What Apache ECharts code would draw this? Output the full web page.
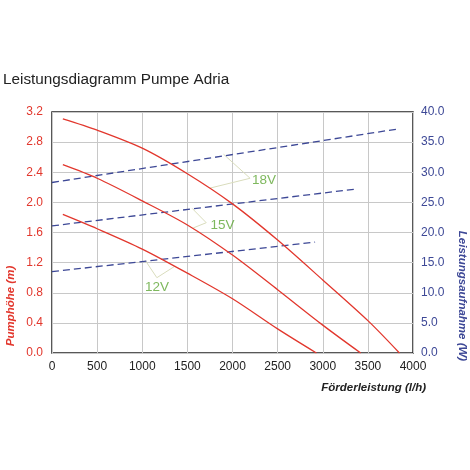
<!DOCTYPE html>
<html>
<head>
<meta charset="utf-8">
<script src="https://cdn.jsdelivr.net/npm/echarts@6/dist/echarts.min.js"></script>
<style>
  html, body { margin: 0; padding: 0; background: #fff; }
  #chart { width: 470px; height: 470px; }
</style>
</head>
<body>
<div id="chart"></div>
<script>
// Förderhöhe (m) je Spannung, [l/h, m]
const head18V = [[120, 3.11], [500, 2.96], [1000, 2.72], [1500, 2.38], [2000, 1.98], [2500, 1.50], [3000, 0.97], [3500, 0.43], [3850, 0]];
const head15V = [[120, 2.50], [500, 2.32], [1000, 2.02], [1500, 1.70], [2000, 1.30], [2500, 0.84], [3000, 0.37], [3420, 0]];
const head12V = [[120, 1.84], [500, 1.65], [1000, 1.38], [1500, 1.06], [2000, 0.72], [2500, 0.32], [2930, 0]];

// Leistungsaufnahme (W), [l/h, W]
const power18V = [[0, 28.3], [3840, 37.2]];
const power15V = [[0, 21.1], [3360, 27.2]];
const power12V = [[0, 13.5], [2915, 18.4]];

// Beschriftungen mit Hinweislinien (Endpunkt, Knick, Endpunkt) in Achsenwerten
const calloutNames = ['18V', '15V', '12V'];
const calloutLines = [
    [[1900, 2.64], [2195, 2.32], [1752, 2.19]],
    [[1553, 1.92], [1709, 1.73], [1564, 1.66]],
    [[1033, 1.23], [1162, 1.00], [1365, 1.155]]
];
const calloutLabels = [[2215, 2.30], [1755, 1.70], [1030, 0.87]];

const xTicks = [0, 4000, 500];
const leftTicks = [0, 3.2, 0.4];
const rightTicks = [0, 40, 5];

const chart = echarts.init(document.getElementById('chart'));

const red = '#e2372d';
const blue = '#3d4896';
const green = '#5ea634';

let series = [];

[head18V, head15V, head12V].forEach(function (d) {
    series.push({
        type: 'line', data: d, smooth: 0.3, showSymbol: false, yAxisIndex: 0,
        lineStyle: {color: red, width: 1.3}, z: 4
    });
});

[power18V, power15V, power12V].forEach(function (d) {
    series.push({
        type: 'line', data: d, showSymbol: false, yAxisIndex: 1,
        lineStyle: {color: blue, width: 1.3, type: [7, 4]}, z: 3
    });
});

calloutLines.forEach(function (d) {
    series.push({
        type: 'line', data: d, showSymbol: false, yAxisIndex: 0,
        lineStyle: {color: '#d9dcbc', width: 1}, z: 2
    });
});

series.push({
    type: 'scatter', yAxisIndex: 0, symbolSize: 0,
    data: calloutLabels.map(function (p, i) { return {name: calloutNames[i], value: p}; }),
    label: {
        show: true, position: 'right', distance: 0, formatter: '{b}',
        color: green, fontSize: 13.5, fontFamily: 'Liberation Sans'
    }
});

const option = {
    animation: false,
    textStyle: {fontFamily: 'Liberation Sans'},
    title: {
        text: 'Leistungsdiagramm Pumpe Adria',
        left: 3, top: 72, padding: 0,
        textStyle: {fontSize: 15.3, fontWeight: 'normal', color: '#222'}
    },
    grid: {
        left: 52, right: 57, top: 112, bottom: 117,
        show: true, borderColor: '#222', borderWidth: 1.5
    },
    xAxis: {
        type: 'value', min: xTicks[0], max: xTicks[1], interval: xTicks[2],
        axisLine: {show: false}, axisTick: {show: false},
        axisLabel: {color: '#222', fontSize: 12, margin: 8, formatter: function (v) { return String(v); }},
        splitLine: {lineStyle: {color: '#c8c8c8', width: 1}}
    },
    yAxis: [
        {
            type: 'value', min: leftTicks[0], max: leftTicks[1], interval: leftTicks[2],
            axisLine: {show: false}, axisTick: {show: false},
            axisLabel: {color: red, fontSize: 12, margin: 9, formatter: function (v) { return v.toFixed(1); }},
            splitLine: {lineStyle: {color: '#c8c8c8', width: 1}}
        },
        {
            type: 'value', min: rightTicks[0], max: rightTicks[1], interval: rightTicks[2],
            axisLine: {show: false}, axisTick: {show: false},
            axisLabel: {color: blue, fontSize: 12, margin: 8, formatter: function (v) { return v.toFixed(1); }},
            splitLine: {show: false}
        }
    ],
    graphic: [
        {
            type: 'text', x: 11, y: 306, rotation: Math.PI / 2,
            style: {
                text: 'Pumphöhe (m)', fill: red, font: 'italic bold 11.5px "Liberation Sans"',
                textAlign: 'center', textVerticalAlign: 'middle'
            }
        },
        {
            type: 'text', x: 462, y: 296, rotation: -Math.PI / 2,
            style: {
                text: 'Leistungsaufnahme (W)', fill: blue, font: 'italic bold 11.5px "Liberation Sans"',
                textAlign: 'center', textVerticalAlign: 'middle'
            }
        },
        {
            type: 'text', x: 426, y: 388,
            style: {
                text: 'Förderleistung (l/h)', fill: '#222', font: 'italic bold 11.5px "Liberation Sans"',
                textAlign: 'right', textVerticalAlign: 'middle'
            }
        }
    ],
    series: series
};

chart.setOption(option);
</script>
</body>
</html>
